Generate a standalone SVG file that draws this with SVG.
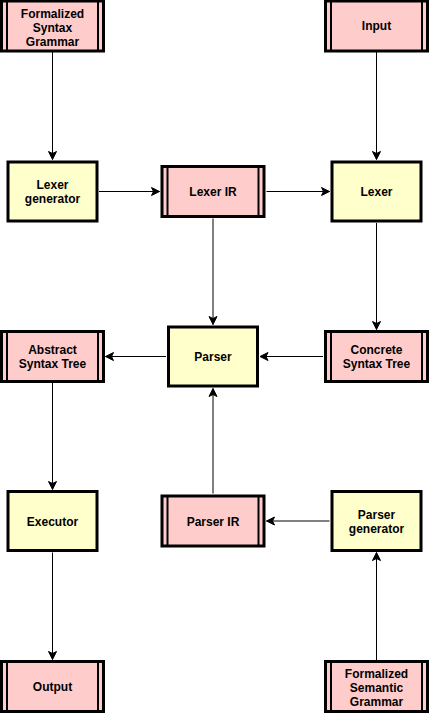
<svg xmlns="http://www.w3.org/2000/svg" width="430" height="713" viewBox="0 0 430 713">
<defs>
<style>
.io rect{fill:#FFCCCC;stroke:#000;stroke-width:3}
.io line{stroke:#000;stroke-width:2}
.proc rect{fill:#FFFFCC;stroke:#000;stroke-width:3}
text{font-family:"Liberation Sans",Arial,Helvetica,sans-serif;font-size:12px;font-weight:bold;fill:#000;text-anchor:middle}
#edges line{stroke:#000;stroke-width:1;fill:none;marker-end:url(#arr)}
</style>
<marker id="arr" markerUnits="userSpaceOnUse" markerWidth="10" markerHeight="10" viewBox="0 0 10 10" refX="9" refY="5" orient="auto">
<path d="M1,1 L9,5 L1,9 L3,5 z" fill="#000" stroke="#000" stroke-width="1"/>
</marker>
</defs>
<rect width="430" height="713" fill="#fff"/>
<g id="edges">
<line x1="52.5" y1="52" x2="52.5" y2="159.5"/>
<line x1="376.5" y1="52" x2="376.5" y2="159.5"/>
<line x1="99" y1="191.5" x2="159.5" y2="191.5"/>
<line x1="266.5" y1="191.5" x2="329.5" y2="191.5"/>
<line x1="213" y1="218.5" x2="213" y2="324.5"/>
<line x1="376.5" y1="223" x2="376.5" y2="329.5"/>
<line x1="323" y1="356.5" x2="260" y2="356.5"/>
<line x1="166" y1="356.5" x2="105.5" y2="356.5"/>
<line x1="52.5" y1="383" x2="52.5" y2="489.5"/>
<line x1="52.5" y1="552.5" x2="52.5" y2="659.5"/>
<line x1="213" y1="493.5" x2="213" y2="388.5"/>
<line x1="329.5" y1="521" x2="266.5" y2="521"/>
<line x1="376.5" y1="660" x2="376.5" y2="552.5"/>
</g>
<g id="formalized-syntax-grammar" class="io">
<rect x="1.5" y="1" width="102" height="50"/>
<line x1="7" y1="1" x2="7" y2="51"/><line x1="98" y1="1" x2="98" y2="51"/>
<text x="52.5" y="18">Formalized</text><text x="52.5" y="32">Syntax</text><text x="52.5" y="46">Grammar</text>
</g>
<g id="input" class="io">
<rect x="325.5" y="1" width="102" height="50"/>
<line x1="331" y1="1" x2="331" y2="51"/><line x1="422" y1="1" x2="422" y2="51"/>
<text x="376.5" y="30">Input</text>
</g>
<g id="lexer-generator" class="proc">
<rect x="8" y="162" width="89" height="59"/>
<text x="52.5" y="189">Lexer</text><text x="52.5" y="203">generator</text>
</g>
<g id="lexer-ir" class="io">
<rect x="162" y="166.5" width="102" height="50"/>
<line x1="167.5" y1="166.5" x2="167.5" y2="216.5"/><line x1="258.5" y1="166.5" x2="258.5" y2="216.5"/>
<text x="213" y="196">Lexer IR</text>
</g>
<g id="lexer" class="proc">
<rect x="332" y="162" width="89" height="59"/>
<text x="376.5" y="196">Lexer</text>
</g>
<g id="abstract-syntax-tree" class="io">
<rect x="1.5" y="331.5" width="102" height="50"/>
<line x1="7" y1="331.5" x2="7" y2="381.5"/><line x1="98" y1="331.5" x2="98" y2="381.5"/>
<text x="52.5" y="354">Abstract</text><text x="52.5" y="368">Syntax Tree</text>
</g>
<g id="parser" class="proc">
<rect x="168.5" y="327" width="89" height="59"/>
<text x="213" y="361">Parser</text>
</g>
<g id="concrete-syntax-tree" class="io">
<rect x="325.5" y="331.5" width="102" height="50"/>
<line x1="331" y1="331.5" x2="331" y2="381.5"/><line x1="422" y1="331.5" x2="422" y2="381.5"/>
<text x="376.5" y="354">Concrete</text><text x="376.5" y="368">Syntax Tree</text>
</g>
<g id="executor" class="proc">
<rect x="8" y="491.5" width="89" height="59"/>
<text x="52.5" y="525.5">Executor</text>
</g>
<g id="parser-ir" class="io">
<rect x="162" y="496" width="102" height="50"/>
<line x1="167.5" y1="496" x2="167.5" y2="546"/><line x1="258.5" y1="496" x2="258.5" y2="546"/>
<text x="213" y="525.5">Parser IR</text>
</g>
<g id="parser-generator" class="proc">
<rect x="332" y="491.5" width="89" height="59"/>
<text x="376.5" y="518.5">Parser</text><text x="376.5" y="532.5">generator</text>
</g>
<g id="output" class="io">
<rect x="1.5" y="661.5" width="102" height="50"/>
<line x1="7" y1="661.5" x2="7" y2="711.5"/><line x1="98" y1="661.5" x2="98" y2="711.5"/>
<text x="52.5" y="691">Output</text>
</g>
<g id="formalized-semantic-grammar" class="io">
<rect x="325.5" y="661.5" width="102" height="50"/>
<line x1="331" y1="661.5" x2="331" y2="711.5"/><line x1="422" y1="661.5" x2="422" y2="711.5"/>
<text x="376.5" y="678">Formalized</text><text x="376.5" y="692">Semantic</text><text x="376.5" y="706">Grammar</text>
</g>
</svg>
